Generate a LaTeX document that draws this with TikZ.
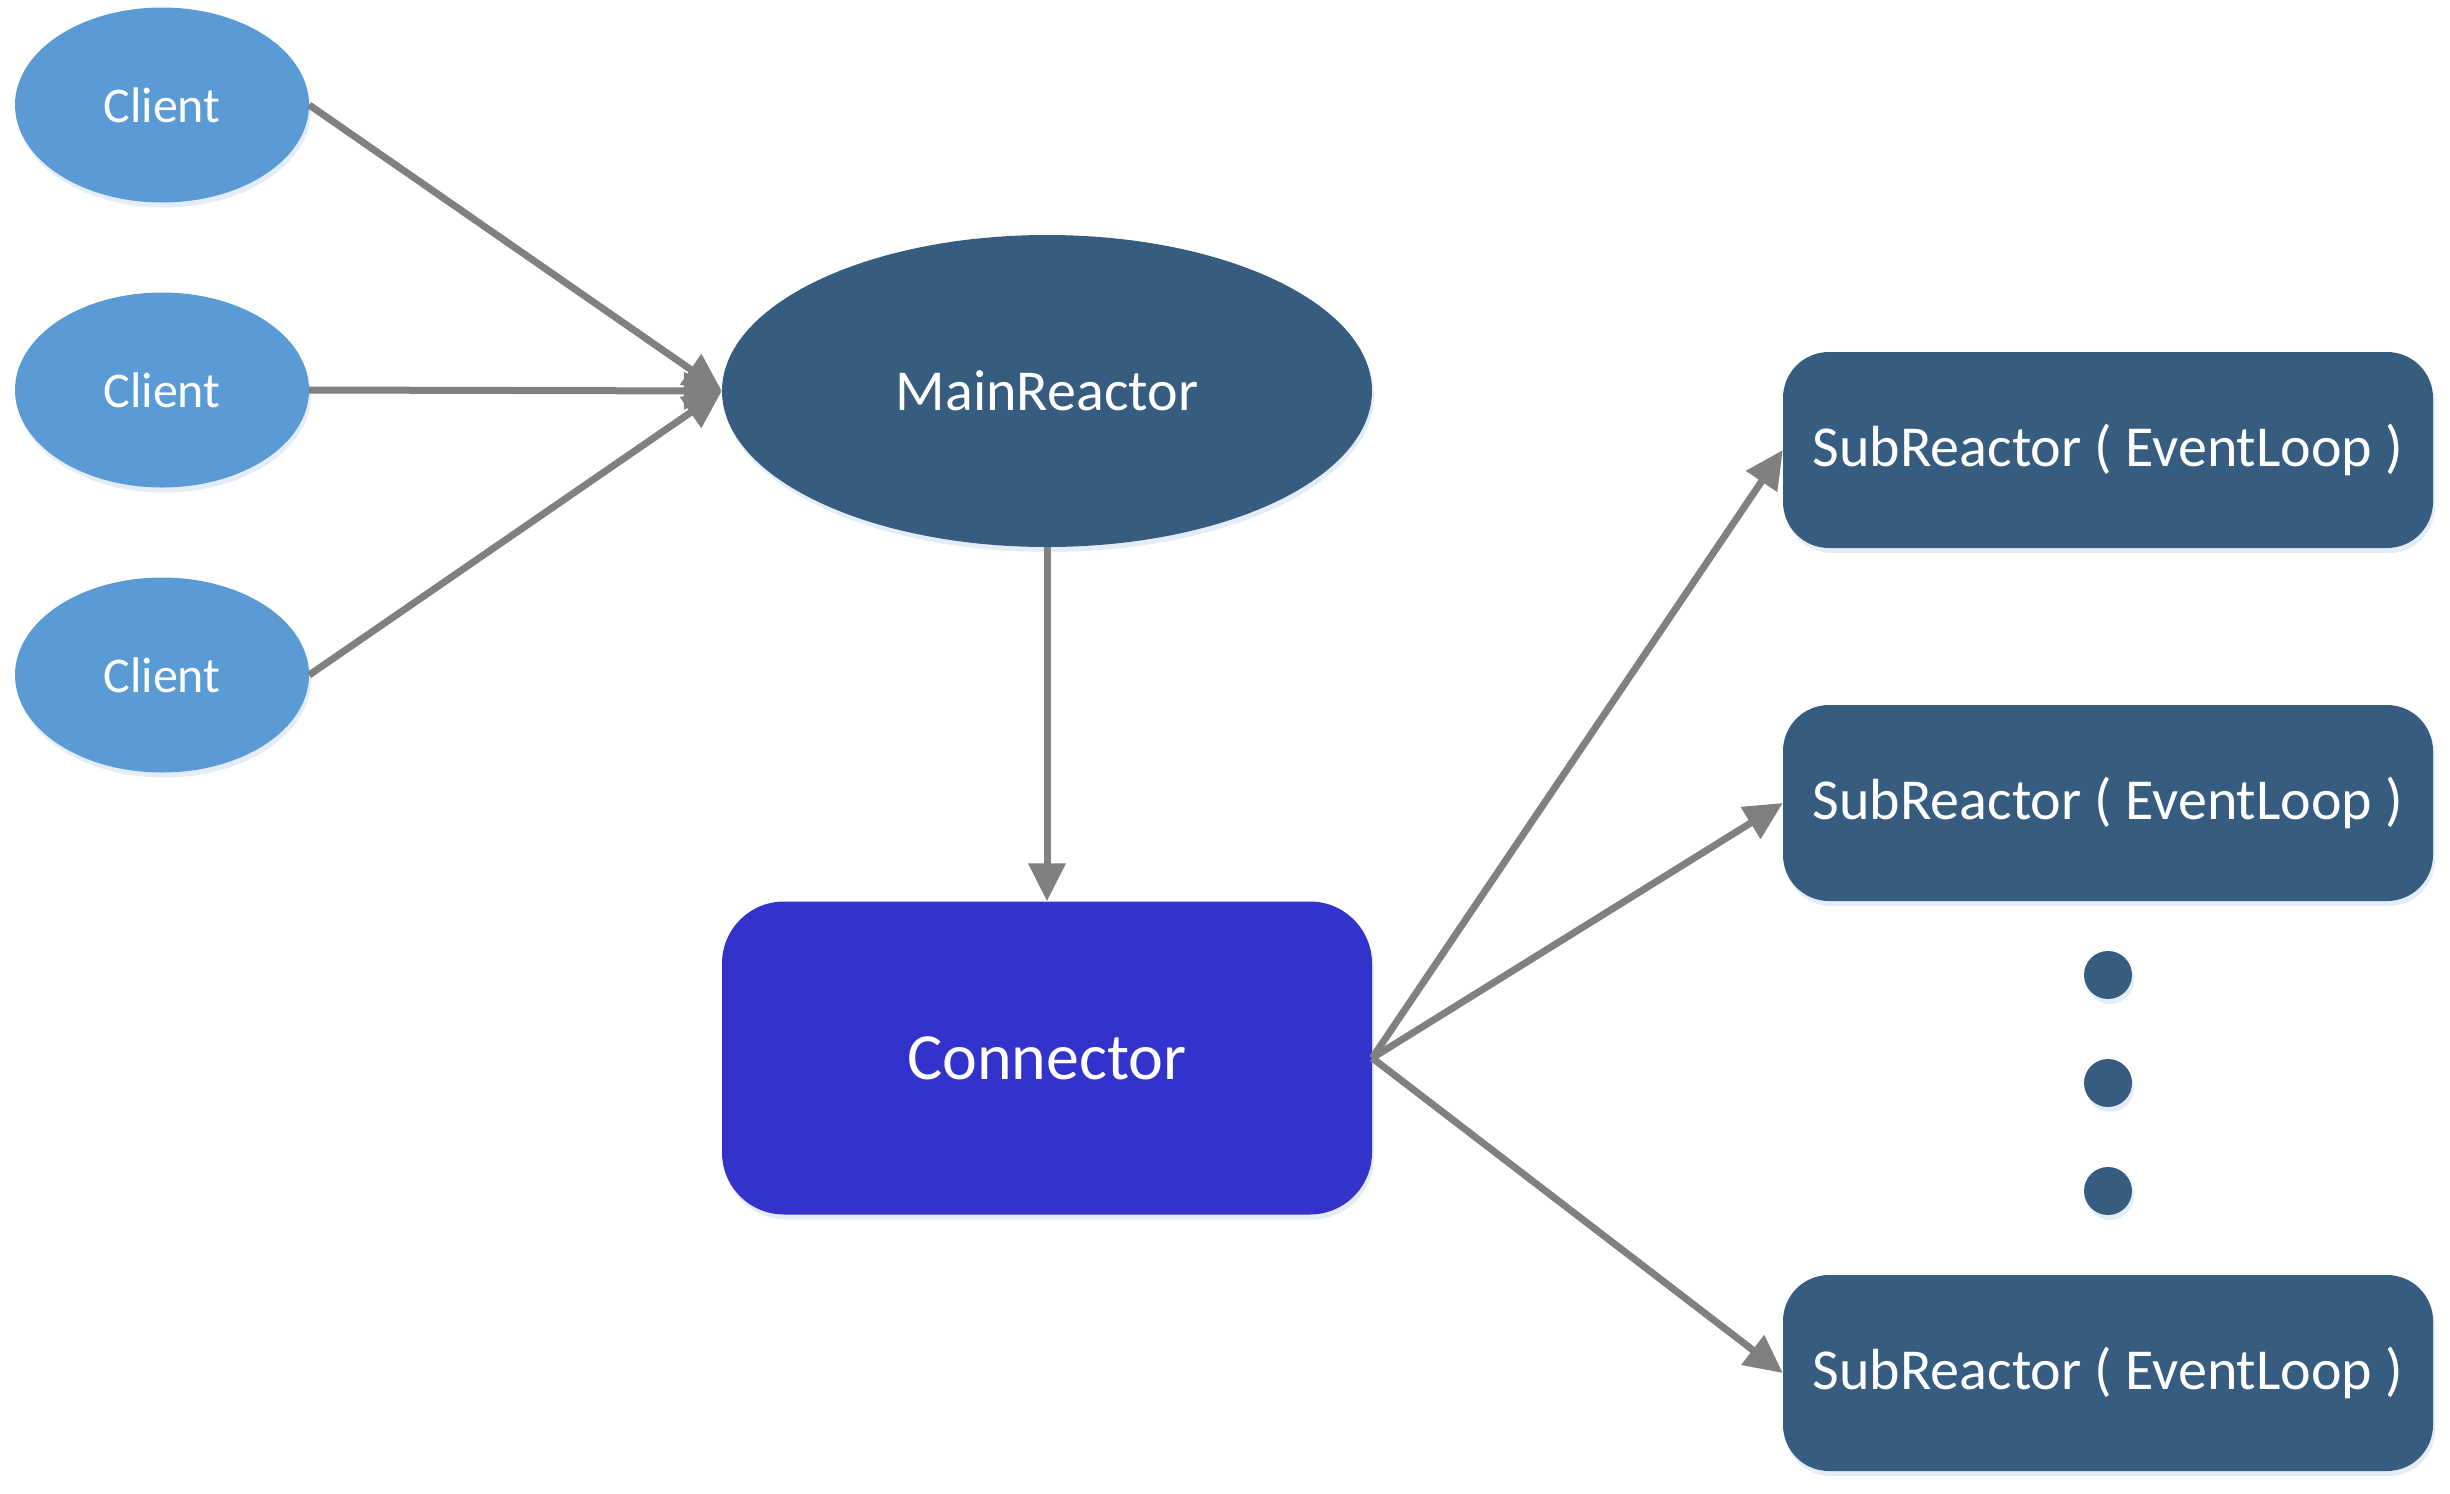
\documentclass[tikz,border=0pt]{standalone}
\usepackage{fontspec}
\setmainfont{Carlito}
\usetikzlibrary{shapes.geometric,arrows.meta,shadows}
\definecolor{clientblue}{RGB}{91,155,213}
\definecolor{darkblue}{RGB}{54,93,128}
\definecolor{connblue}{RGB}{51,51,204}
\definecolor{arrowgray}{RGB}{128,128,128}
\definecolor{shadowblue}{RGB}{196,216,238}
\tikzset{
  glow/.style={drop shadow={fill=shadowblue,opacity=0.45,shadow xshift=2pt,shadow yshift=-5pt}},
  clientnode/.style={ellipse,fill=clientblue,glow,minimum width=294pt,minimum height=195pt,inner sep=0pt,text=white,font=\fontsize{50}{60}\selectfont},
  mainnode/.style={ellipse,fill=darkblue,glow,minimum width=650pt,minimum height=312pt,inner sep=0pt,text=white,font=\fontsize{58}{70}\selectfont},
  connnode/.style={rectangle,rounded corners=62pt,fill=connblue,glow,minimum width=650pt,minimum height=313pt,inner sep=0pt,text=white,font=\fontsize{66}{80}\selectfont},
  subnode/.style={rectangle,rounded corners=46pt,fill=darkblue,glow,minimum width=650pt,minimum height=196pt,inner sep=0pt,text=white,font=\fontsize{58}{70}\selectfont},
  dotnode/.style={circle,fill=darkblue,glow,minimum size=48pt,inner sep=0pt},
  link/.style={draw=arrowgray,line width=7pt,-{Triangle[length=38pt,width=36pt]}}
}
\begin{document}
\begin{tikzpicture}[x=1pt,y=-1pt]
\useasboundingbox (0,0) rectangle (2450,1494);
\node[clientnode] (c1) at (162,105) {Client};
\node[clientnode] (c2) at (162,390) {Client};
\node[clientnode] (c3) at (162,675) {Client};
\node[mainnode] (main) at (1047,391) {MainReactor};
\node[connnode] (conn) at (1047,1058) {Connector};
\node[subnode] (s1) at (2108,450) {SubReactor ( EventLoop )};
\node[subnode] (s2) at (2108,803) {SubReactor ( EventLoop )};
\node[subnode] (s3) at (2108,1373) {SubReactor ( EventLoop )};
\node[dotnode] (d1) at (2108,975) {};
\node[dotnode] (d2) at (2108,1083) {};
\node[dotnode] (d3) at (2108,1191) {};
\draw[link] (c1.east) -- (main.west);
\draw[link] (c2.east) -- (main.west);
\draw[link] (c3.east) -- (main.west);
\draw[link] (main.south) -- (conn.north);
\draw[link] (conn.east) -- (s1.west);
\draw[link] (conn.east) -- (s2.west);
\draw[link] (conn.east) -- (s3.west);
\end{tikzpicture}
\end{document}
